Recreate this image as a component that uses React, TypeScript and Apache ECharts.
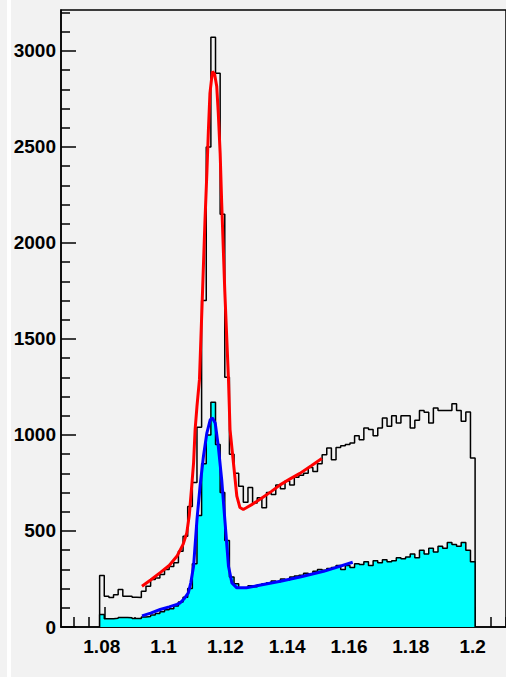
import React, { useEffect, useRef } from "react";
import * as echarts from "echarts";

// Histogram binning (x in GeV)
const binStart = 1.0785;
const binWidth = 0.0015;

// Upper histogram (black outline, all candidates)
const totalCounts = [
  268, 160, 153, 168, 195, 160, 160, 155, 153, 186,
  212, 247, 255, 273, 299, 315, 335, 394, 472, 628,
  752, 1040, 1700, 2500, 3071, 2883, 2150, 1300, 900, 800,
  733, 650, 726, 646, 673, 621, 700, 690, 740, 720,
  760, 740, 780, 790, 800, 830, 810, 850, 897, 932,
  871, 935, 944, 950, 958, 996, 975, 1036, 1028, 996,
  1036, 1088, 1045, 1100, 1062, 1100, 1100, 1036, 1076, 1128,
  1118, 1062, 1140, 1128, 1128, 1128, 1163, 1128, 1071, 1120,
  880,
];

// Lower histogram (cyan filled)
const signalCounts = [
  65, 43, 43, 46, 50, 50, 48, 44, 44, 52,
  55, 62, 70, 80, 90, 95, 110, 130, 155, 200,
  330, 580, 850, 1000, 1170, 950, 700, 450, 260, 225,
  205, 205, 215, 210, 220, 225, 230, 240, 235, 250,
  245, 260, 265, 270, 280, 275, 290, 300, 295, 305,
  310, 320, 300, 320, 310, 330, 325, 340, 320, 345,
  335, 350, 340, 345, 360, 355, 365, 380, 360, 400,
  380, 410, 390, 420, 410, 440, 430, 420, 440, 400,
  340,
];

// Red fit curve
const redX = [
  1.0922, 1.095, 1.0981, 1.101, 1.1035, 1.1055, 1.1067, 1.1075, 1.1083, 1.1089,
  1.1094, 1.11, 1.1108, 1.1117, 1.1126, 1.1132, 1.1137, 1.1142, 1.115, 1.1157,
  1.1164, 1.1169, 1.1175, 1.118, 1.119, 1.1202, 1.1207, 1.1218, 1.1229, 1.1239,
  1.125, 1.1261, 1.128, 1.1304, 1.134, 1.1369, 1.14, 1.1433, 1.147, 1.1504,
];
const redY = [
  212, 245, 283, 320, 368, 430, 490, 580, 733, 854,
  1028, 1149, 1288, 1700, 2120, 2363, 2588, 2780, 2892, 2880,
  2814, 2676, 2468, 2208, 1750, 1288, 1028, 855, 681, 622,
  612, 622, 640, 665, 705, 740, 770, 800, 840, 877,
];

// Blue fit curve
const blueX = [
  1.0922, 1.095, 1.0981, 1.101, 1.1035, 1.1046, 1.106, 1.1072, 1.108, 1.1089,
  1.11, 1.111, 1.1121, 1.1132, 1.1143, 1.115, 1.1159, 1.1169, 1.118, 1.1191,
  1.1202, 1.1213, 1.1229, 1.126, 1.1298, 1.137, 1.1437, 1.151, 1.1604,
];
const blueY = [
  58, 72, 91, 105, 118, 126, 150, 178, 230, 316,
  559, 733, 889, 1010, 1080, 1088, 1062, 941, 767, 542,
  316, 230, 204, 204, 216, 238, 262, 290, 337,
];

// Axis ticks / labels
const xLabelValues = [1.08, 1.1, 1.12, 1.14, 1.16, 1.18, 1.2];
const xMinorTicks = [
  1.07, 1.075, 1.085, 1.09, 1.095, 1.105, 1.11, 1.115, 1.125, 1.13, 1.135,
  1.145, 1.15, 1.155, 1.165, 1.17, 1.175, 1.185, 1.19, 1.195, 1.205, 1.21,
];
const yLabelValues = [0, 500, 1000, 1500, 2000, 2500, 3000];
const yMinorTicks = [
  100, 200, 300, 400, 600, 700, 800, 900, 1100, 1200, 1300, 1400,
  1600, 1700, 1800, 1900, 2100, 2200, 2300, 2400, 2600, 2700, 2800, 2900,
  3100, 3200,
];
const xMin = 1.066;
const xMax = 1.21;
const yMax = 3213;

function histPoints(vals: number[]): number[][] {
  const pts: number[][] = [[binStart, 0]];
  vals.forEach((v, k) => {
    const lo = binStart + k * binWidth;
    const hi = lo + binWidth;
    pts.push([lo, v], [hi, v]);
  });
  pts.push([binStart + vals.length * binWidth, 0]);
  return pts;
}

export default function App() {
  const ref = useRef<HTMLDivElement>(null);
  useEffect(() => {
    if (!ref.current) return;
    const chart = echarts.init(ref.current, null, { renderer: "svg" });
    const font = "'Liberation Sans', Arial, sans-serif";
    const tickStyle = { color: "#000", width: 1.5 };
    chart.setOption({
      animation: false,
      backgroundColor: "#f2f2f2",
      graphic: [
        {
          type: "rect",
          shape: { x: 7, y: 0, width: 4, height: 677 },
          style: { fill: "#ffffff" },
          silent: true,
        },
      ],
      grid: {
        left: 61,
        top: 10,
        width: 446,
        height: 617,
        show: true,
        borderColor: "#000",
        borderWidth: 1.5,
        backgroundColor: "transparent",
      },
      xAxis: [
        {
          type: "value",
          min: xMin,
          max: xMax,
          splitLine: { show: false },
          axisLine: { show: true, onZero: false, lineStyle: tickStyle },
          axisTick: {
            show: true,
            inside: true,
            length: 20,
            customValues: xLabelValues,
            lineStyle: tickStyle,
          },
          axisLabel: {
            show: true,
            customValues: xLabelValues,
            margin: 10,
            padding: [0, 5, 0, 0],
            fontSize: 19,
            fontWeight: "bold",
            fontFamily: font,
            color: "#000",
            formatter: (v: number) => String(parseFloat(v.toFixed(3))),
          },
        },
        {
          type: "value",
          min: xMin,
          max: xMax,
          position: "bottom",
          splitLine: { show: false },
          axisLine: { show: false },
          axisTick: {
            show: true,
            inside: true,
            length: 10,
            customValues: xMinorTicks,
            lineStyle: tickStyle,
          },
          axisLabel: { show: false },
        },
      ],
      yAxis: [
        {
          type: "value",
          min: 0,
          max: yMax,
          splitLine: { show: false },
          axisLine: { show: true, lineStyle: tickStyle },
          axisTick: {
            show: true,
            inside: true,
            length: 15,
            customValues: yLabelValues,
            lineStyle: tickStyle,
          },
          axisLabel: {
            show: true,
            customValues: yLabelValues,
            margin: 5,
            fontSize: 19,
            fontWeight: "bold",
            fontFamily: font,
            color: "#000",
            formatter: (v: number) => String(v),
          },
        },
        {
          type: "value",
          min: 0,
          max: yMax,
          position: "left",
          splitLine: { show: false },
          axisLine: { show: false },
          axisTick: {
            show: true,
            inside: true,
            length: 9,
            customValues: yMinorTicks,
            lineStyle: tickStyle,
          },
          axisLabel: { show: false },
        },
      ],
      series: [
        {
          type: "line",
          data: histPoints(totalCounts),
          symbol: "none",
          lineStyle: { color: "#000", width: 1.5 },
          z: 3,
        },
        {
          type: "line",
          data: histPoints(signalCounts),
          symbol: "none",
          lineStyle: { color: "#000", width: 1.5 },
          areaStyle: { color: "#00ffff", opacity: 1 },
          z: 4,
        },
        {
          type: "line",
          data: redX.map((x, i) => [x, redY[i]]),
          symbol: "none",
          lineStyle: { color: "#ff0000", width: 3 },
          z: 5,
        },
        {
          type: "line",
          data: blueX.map((x, i) => [x, blueY[i]]),
          symbol: "none",
          lineStyle: { color: "#0000ff", width: 3 },
          z: 6,
        },
      ],
    });
    return () => chart.dispose();
  }, []);
  return (
    <div
      style={{ position: "fixed", left: 0, top: 0, width: 506, height: 677, background: "#f2f2f2" }}
    >
      <div ref={ref} style={{ width: 506, height: 677 }} />
    </div>
  );
}
